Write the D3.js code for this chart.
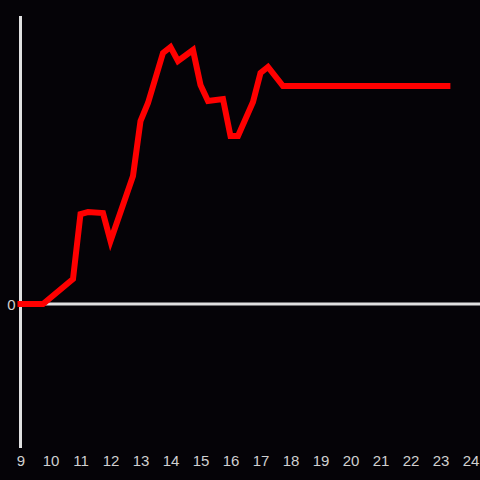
<!DOCTYPE html>
<html>
<head>
<meta charset="utf-8">
<script src="https://cdn.jsdelivr.net/npm/d3@7"></script>
<style>
html,body{margin:0;padding:0;background:#050307;}
svg{display:block;}
</style>
</head>
<body>
<script>
const hours = [8.9, 9.75, 10.75, 11, 11.25, 11.75, 12, 12.75, 13, 13.25, 13.75, 14, 14.25, 14.75, 15, 15.25, 15.75, 16, 16.25, 16.75, 17, 17.25, 17.75, 23.33];
const values = [0, 0, 25, 90, 92, 91, 63, 128, 183, 201, 251, 257, 243, 254, 219, 203, 205, 168, 168, 202, 231, 237, 218, 218];
const xTicks = [9,10,11,12,13,14,15,16,17,18,19,20,21,22,23,24];
const yTicks = [0];

const W = 480, H = 480;
const svg = d3.select("body").append("svg").attr("width", W).attr("height", H);
svg.append("rect").attr("width", W).attr("height", H).attr("fill", "#050307");

const x = d3.scaleLinear().domain([9, 24]).range([20.5, 470.5]);
const y = d3.scaleLinear().domain([-144, 288]).range([448, 16]);

// y axis line
svg.append("line").attr("x1", x(9)).attr("x2", x(9)).attr("y1", y(288)).attr("y2", y(-144))
  .attr("stroke", "#e0e0e0").attr("stroke-width", 3);
// zero line
svg.append("line").attr("x1", x(9)).attr("x2", W).attr("y1", y(0)).attr("y2", y(0))
  .attr("stroke", "#e0e0e0").attr("stroke-width", 3);

const xAxis = d3.axisBottom(x).tickValues(xTicks).tickSize(0).tickPadding(0).tickFormat(d3.format("d"));
const gx = svg.append("g").attr("transform", `translate(0,${455.5})`).call(xAxis);
gx.select(".domain").remove();
gx.selectAll("text").attr("fill", "#d0d0d0").attr("font-size", 15).attr("font-family", "Liberation Sans, Arial, sans-serif");

const yAxis = d3.axisLeft(y).tickValues(yTicks).tickSize(0).tickPadding(4).tickFormat(d3.format("d"));
const gy = svg.append("g").attr("transform", `translate(${x(9)-1},0.5)`).call(yAxis);
gy.select(".domain").remove();
gy.selectAll("text").attr("fill", "#d0d0d0").attr("font-size", 15).attr("font-family", "Liberation Sans, Arial, sans-serif");

const line = d3.line().x((d, i) => x(hours[i])).y(d => y(d));
svg.append("path").datum(values).attr("d", line)
  .attr("fill", "none").attr("stroke", "#ff0000").attr("stroke-width", 6)
  .attr("stroke-linejoin", "miter");
</script>
</body>
</html>
